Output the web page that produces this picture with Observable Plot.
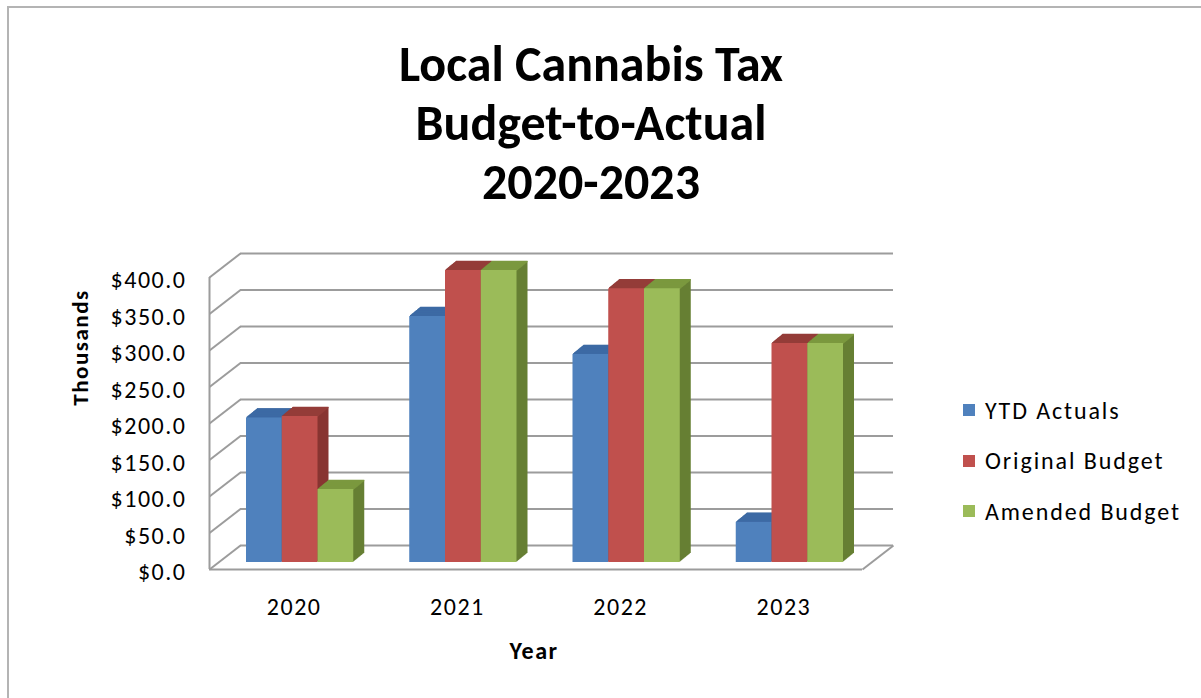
<!DOCTYPE html>
<html>
<head>
<meta charset="utf-8">
<script src="https://cdn.jsdelivr.net/npm/d3@7"></script>
<script src="https://cdn.jsdelivr.net/npm/@observablehq/plot@0.6"></script>
<style>
  html, body { margin: 0; padding: 0; background: #fff; }
  #wrap { position: relative; width: 1201px; height: 698px; overflow: hidden; background: #fff;
          font-family: Carlito, Calibri, Lato, "Open Sans", sans-serif; color: #000; }
  #frame { position: absolute; left: 7px; top: 6px; width: 1400px; height: 900px;
           border-left: 2px solid #b4b4b4; border-top: 2px solid #b4b4b4; }
  #title { position: absolute; left: 0; top: 34px; width: 1182px; text-align: center;
           font-weight: bold; font-size: 50px; line-height: 59px; }
  #chart { position: absolute; left: 0; top: 0; }
  #legend { position: absolute; left: 963px; top: 385px; font-size: 24px; letter-spacing: 1.9px; }
  #legend .item { height: 50.5px; display: flex; align-items: center; white-space: nowrap; }
  #legend .sw { width: 12px; height: 12px; margin-right: 10px; flex: none; }
</style>
</head>
<body>
<div id="wrap">
  <div id="frame"></div>
  <div id="title">Local Cannabis Tax<br>Budget-to-Actual<br>2020-2023</div>
  <div id="chart"></div>
  <div id="legend"></div>
</div>
<script>
// ---- data ----
const years = ["2020", "2021", "2022", "2023"];
const seriesNames = ["YTD Actuals", "Original Budget", "Amended Budget"];
const ytdActuals = [198, 337, 285, 55];
const originalBudget = [200, 400, 375, 300];
const amendedBudget = [100, 400, 375, 300];
const yTicks = [0, 50, 100, 150, 200, 250, 300, 350, 400];
const yTickLabels = yTicks.map(d => "$" + d.toFixed(1));
const xTitle = "Year";
const yTitle = "Thousands";

// ---- styles ----
const frontColors = ["#4f81bd", "#c0504d", "#9bbb59"];
const topColors   = ["#3c6aa4", "#943c39", "#7b983f"];
const sideColors  = ["#335c8f", "#883431", "#667f33"];
const gridColor = "#9c9c9c";
const font = 'Carlito, Calibri, Lato, "Open Sans", sans-serif';

// ---- geometry (pixels) ----
const W = 1201, H = 698;
const mL = 209, mR = 339, mT = 277, mB = 129;
const kx = (W - mL - mR) / 4;          // px per group unit
const ky = (H - mT - mB) / 400;        // px per value unit
const BX = 9, BY = -7;                 // front plane -> bar plane
const DX = 11, DY = -9;                // bar depth
const WX = 31, WY = -24;               // wall depth
const gap = 0.1715, bw = 0.219;        // group gap and bar width (group units)

const seriesValues = [ytdActuals, originalBudget, amendedBudget];
const bars = [];
seriesValues.forEach((vals, s) => vals.forEach((v, i) => {
  const x1 = i + gap + s * bw;
  bars.push({year: years[i], series: seriesNames[s], s, value: v, x1, x2: x1 + bw});
}));

const marks = [];
// back wall gridlines
marks.push(Plot.ruleY(yTicks, {y: d => d, x1: 0, x2: 4, dx: WX, dy: WY, stroke: gridColor, strokeWidth: 2}));
// left wall diagonals
marks.push(Plot.link(yTicks, {x1: 0, y1: d => d, x2: WX / kx, y2: d => d - WY / ky, stroke: gridColor, strokeWidth: 2}));
// left wall front edge
marks.push(Plot.ruleX([0], {y1: 0, y2: 400, stroke: gridColor, strokeWidth: 2}));
// floor front edge and right edge
marks.push(Plot.ruleY([0], {x1: 0, x2: 4, stroke: gridColor, strokeWidth: 2}));
marks.push(Plot.link([0], {x1: 4, y1: 0, x2: 4 + WX / kx, y2: -WY / ky, stroke: gridColor, strokeWidth: 2}));

// 3D bars
const K = 14;
for (let s = 0; s < 3; s++) {
  const rows = bars.filter(b => b.s === s);
  for (let k = 1; k <= K; k++) {
    marks.push(Plot.rect(rows, {x1: "x1", x2: "x2", y1: 0, y2: "value",
      dx: BX + k * DX / K, dy: BY + k * DY / K, fill: sideColors[s]}));
  }
  for (let k = 1; k <= K; k++) {
    marks.push(Plot.ruleY(rows, {x1: "x1", x2: "x2", y: "value",
      dx: BX + k * DX / K, dy: BY + k * DY / K, stroke: topColors[s], strokeWidth: 1.6}));
  }
  marks.push(Plot.rect(rows, {x1: "x1", x2: "x2", y1: 0, y2: "value", dx: BX, dy: BY, fill: frontColors[s]}));
}

// y tick labels
marks.push(Plot.text(yTicks, {x: 0, y: d => d, text: (d, i) => yTickLabels[i], textAnchor: "end",
  dx: -23, dy: 3, fontSize: 24, fill: "#000", fontFamily: font}));
// x tick labels
marks.push(Plot.text(years, {x: (d, i) => i + 0.5, y: () => 0, text: d => d, dx: 3, dy: 38,
  fontSize: 24, fill: "#000", fontFamily: font}));
// axis titles
marks.push(Plot.text([xTitle], {x: () => 2, y: () => 0, text: d => d, dx: -2, dy: 82,
  fontSize: 24, fontWeight: "bold", fill: "#000", fontFamily: font}));
marks.push(Plot.text([yTitle], {frameAnchor: "top-left", text: d => d, dx: -129, dy: 70, rotate: -90,
  textAnchor: "middle", lineAnchor: "middle",
  fontSize: 23, fontWeight: "bold", fill: "#000", fontFamily: font}));

const chart = Plot.plot({
  width: W, height: H,
  marginLeft: mL, marginRight: mR, marginTop: mT, marginBottom: mB,
  x: {domain: [0, 4], axis: null},
  y: {domain: [0, 400], axis: null},
  style: {background: "transparent", fontFamily: font, overflow: "visible", letterSpacing: "1.5px"},
  marks
});
document.getElementById("chart").appendChild(chart);

// legend
const legend = document.getElementById("legend");
seriesNames.forEach((name, s) => {
  const item = document.createElement("div");
  item.className = "item";
  const sw = document.createElement("span");
  sw.className = "sw";
  sw.style.background = frontColors[s];
  const label = document.createElement("span");
  label.textContent = name;
  item.appendChild(sw);
  item.appendChild(label);
  legend.appendChild(item);
});
</script>
</body>
</html>
